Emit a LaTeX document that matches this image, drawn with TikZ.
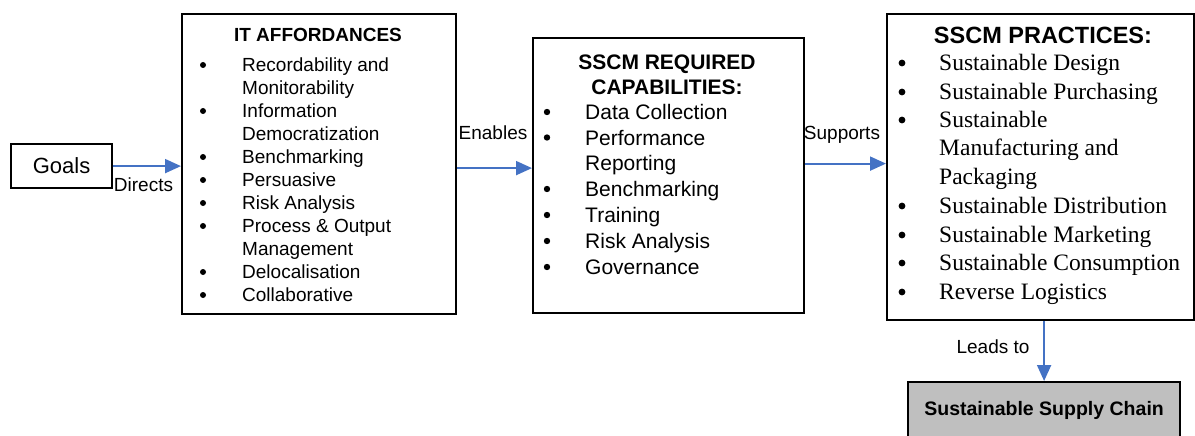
\documentclass[tikz,border=0pt]{standalone}
\usepackage{fontspec}
\setmainfont{Liberation Sans}
\newfontfamily\timesfont{Liberation Serif}
\usetikzlibrary{arrows.meta}

\definecolor{flowblue}{RGB}{68,114,196}
\definecolor{chaingray}{RGB}{191,191,191}

\tikzset{
	box/.style={draw,line width=2.2pt,inner sep=0pt,anchor=north west},
	flow/.style={draw=flowblue,line width=2pt,-{Triangle[length=16pt,width=14pt]}},
	itemtext/.style={anchor=west,inner sep=0pt,text depth=0pt},
	flowlabel/.style={inner sep=0pt,text height=13.6pt,text depth=0pt,font=\fontsize{19}{23}\selectfont},
}

\begin{document}
\begin{tikzpicture}[x=1pt,y=-1pt]
	\clip (0,0) rectangle (1195,436);

	%BOXES
	\node[box,minimum width=101pt,minimum height=44pt,font=\fontsize{22}{26}\selectfont] (goals) at (10,143) {Goals};
	\node[box,minimum width=274pt,minimum height=300pt] (affordances) at (181,13) {};
	\node[box,minimum width=271pt,minimum height=275pt] (capabilities) at (532,37) {};
	\node[box,minimum width=307pt,minimum height=306pt] (practices) at (886,13) {};
	\node[box,fill=chaingray,minimum width=272pt,minimum height=57pt,font=\bfseries\fontsize{19.5}{23}\selectfont] (chain) at (907,381) {Sustainable Supply Chain};

	%IT AFFORDANCES
	\node[inner sep=0pt,text height=13.6pt,text depth=0pt,font=\bfseries\fontsize{19}{23}\selectfont] (afftitle) at (318,35) {IT AFFORDANCES};
	\foreach \y/\t/\b [count=\i] in {65/Recordability and/1, 88/Monitorability/0, 111/Information/1,
		134/Democratization/0, 157/Benchmarking/1, 180/Persuasive/1, 203/Risk Analysis/1,
		226/Process \& Output/1, 249/Management/0, 272/Delocalisation/1, 295/Collaborative/1}{
		\node[itemtext,text height=13.6pt,font=\fontsize{19}{23}\selectfont] (aff\i) at (242,\y) {\t};
		\ifnum\b=1 \fill (203,\y) circle (3pt); \fi
	}

	%SSCM REQUIRED CAPABILITIES
	\node[inner sep=0pt,align=center,font=\bfseries\fontsize{21}{25}\selectfont] (captitle) at (667,74.5) {SSCM REQUIRED\\CAPABILITIES:};
	\foreach \y/\t/\b [count=\i] in {112/Data Collection/1, 137.5/Performance/1, 163/Reporting/0,
		189/Benchmarking/1, 215/Training/1, 241/Risk Analysis/1, 267/Governance/1}{
		\node[itemtext,text height=15pt,font=\fontsize{21}{25}\selectfont] (cap\i) at (585,\y) {\t};
		\ifnum\b=1 \fill (547,\y) circle (3.2pt); \fi
	}

	%SSCM PRACTICES
	\node[inner sep=0pt,text height=16.8pt,text depth=0pt,font=\bfseries\fontsize{23.5}{28}\selectfont] (practitle) at (1043,35) {SSCM PRACTICES:};
	\foreach \y/\t/\b [count=\i] in {63/Sustainable Design/1, 92/Sustainable Purchasing/1, 120/Sustainable/1,
		148/Manufacturing and/0, 177/Packaging/0, 206/Sustainable Distribution/1,
		235/Sustainable Marketing/1, 263/Sustainable Consumption/1, 292/Reverse Logistics/1}{
		\node[itemtext,text height=15.6pt,font=\timesfont\fontsize{23.5}{28}\selectfont] (prac\i) at (939,\y) {\t};
		\ifnum\b=1 \fill (902,\y) circle (3.4pt); \fi
	}

	%ARROWS & LABELS
	\draw[flow] (goals) -- (affordances.west |- goals);
	\draw[flow] ([yshift=-4pt]affordances.east) -- ([yshift=-4pt]affordances.east -| capabilities.west);
	\draw[flow] ([yshift=3.5pt]practices.west -| capabilities.east) -- ([yshift=3.5pt]practices.west);
	\draw[flow] (chain.north |- practices.south) -- (chain.north);
	\node[flowlabel] (directs) at (143.5,185) {Directs};
	\node[flowlabel] (enables) at (493,133) {Enables};
	\node[flowlabel] (supports) at (842,133) {Supports};
	\node[flowlabel] (leadsto) at (993,347) {Leads to};
\end{tikzpicture}
\end{document}
